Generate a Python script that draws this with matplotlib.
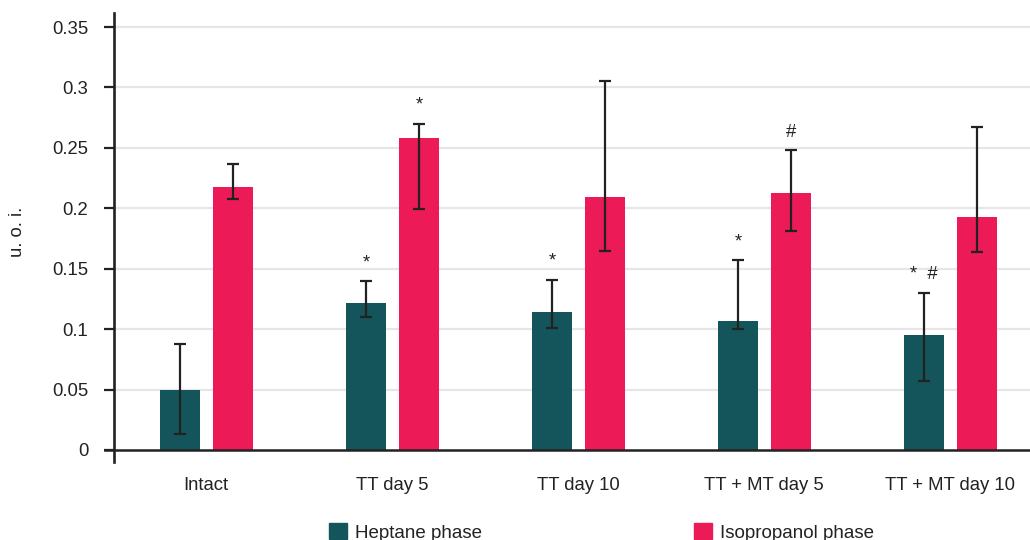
import matplotlib
matplotlib.use("Agg")
import matplotlib.pyplot as plt
import numpy as np
from matplotlib.patches import Patch
import matplotlib.transforms as mtransforms

plt.rcParams['font.family'] = ['Liberation Sans', 'DejaVu Sans']

categories = ["Intact", "TT day 5", "TT day 10", "TT + MT day 5", "TT + MT day 10"]
series_names = ["Heptane phase", "Isopropanol phase"]

heptane = [0.050, 0.122, 0.114, 0.107, 0.095]
heptane_lo = [0.013, 0.110, 0.101, 0.100, 0.057]
heptane_hi = [0.088, 0.140, 0.141, 0.157, 0.130]

isoprop = [0.218, 0.258, 0.209, 0.213, 0.193]
isoprop_lo = [0.208, 0.199, 0.165, 0.181, 0.164]
isoprop_hi = [0.237, 0.270, 0.305, 0.248, 0.267]

heptane_marks = ["", "*", "*", "*", "*  #"]
isoprop_marks = ["", "*", "", "#", ""]

yticks = [0, 0.05, 0.1, 0.15, 0.2, 0.25, 0.3, 0.35]
ytick_labels = ["0", "0.05", "0.1", "0.15", "0.2", "0.25", "0.3", "0.35"]

c_hep = "#13555A"
c_iso = "#EC1A56"
c_dark = "#222222"
c_grid = "#E6E6E8"
fs = 13.3

W, H = 1030, 540
fig = plt.figure(figsize=(W / 100, H / 100), dpi=100)
ax = fig.add_axes([114 / W, 1 - 462 / H, (W - 114) / W, (462 - 13) / H])

x = np.arange(len(categories))
off_h = 26 / 186
off_i = 27 / 186
bw = 40 / 186

ax.set_xlim(-0.495, 4.43)
ax.set_ylim(-0.01, 0.3616)

for v in yticks[1:]:
    ax.axhline(v, color=c_grid, lw=1.6, zorder=0)

ax.bar(x - off_h, heptane, bw, color=c_hep, zorder=2, label=series_names[0])
ax.bar(x + off_i, isoprop, bw, color=c_iso, zorder=2, label=series_names[1])

h = np.array(heptane)
i = np.array(isoprop)
ax.errorbar(x - off_h, h, yerr=[h - np.array(heptane_lo), np.array(heptane_hi) - h],
            fmt='none', ecolor=c_dark, elinewidth=1.6, capsize=4.3, capthick=1.6, zorder=3)
ax.errorbar(x + off_i, i, yerr=[i - np.array(isoprop_lo), np.array(isoprop_hi) - i],
            fmt='none', ecolor=c_dark, elinewidth=1.6, capsize=4.3, capthick=1.6, zorder=3)

for xi, top, m in zip(x - off_h, heptane_hi, heptane_marks):
    if m:
        ax.annotate(m, (xi, top), xytext=(0, 7), textcoords='offset points',
                    ha='center', va='bottom', fontsize=fs, color=c_dark)
for xi, top, m in zip(x + off_i, isoprop_hi, isoprop_marks):
    if m:
        ax.annotate(m, (xi, top), xytext=(0, 7), textcoords='offset points',
                    ha='center', va='bottom', fontsize=fs, color=c_dark)

# zero line
trans = mtransforms.blended_transform_factory(ax.transAxes, ax.transData)
ax.plot([-9 / 916, 1], [0, 0], transform=trans, color=c_dark, lw=1.8, clip_on=False, zorder=4)

for s in ['top', 'right', 'bottom']:
    ax.spines[s].set_visible(False)
ax.spines['left'].set_linewidth(1.9)
ax.spines['left'].set_color(c_dark)

ax.set_yticks(yticks)
ax.set_yticklabels(ytick_labels)
ax.tick_params(axis='y', length=7, width=1.6, color=c_dark, labelsize=fs,
               labelcolor=c_dark, pad=11.5)
ax.set_xticks(x)
ax.set_xticklabels(categories)
ax.tick_params(axis='x', length=0, labelsize=fs, labelcolor=c_dark, pad=10.5)

fig.text(18 / W, 1 - 232 / H, "u. o. i.", rotation=90, ha='center', va='center',
         fontsize=fs, color=c_dark)

handles = [Patch(color=c_hep, label=series_names[0]), Patch(color=c_iso, label=series_names[1])]
fig.legend(handles=handles, loc='upper left', bbox_to_anchor=(329 / W, 1 - 523 / H),
           ncol=2, frameon=False, fontsize=13.5, handlelength=0.96, handleheight=0.96,
           handletextpad=0.42, columnspacing=11.3, borderpad=0, borderaxespad=0,
           labelcolor=c_dark)

fig.savefig("out.png", dpi=100)
